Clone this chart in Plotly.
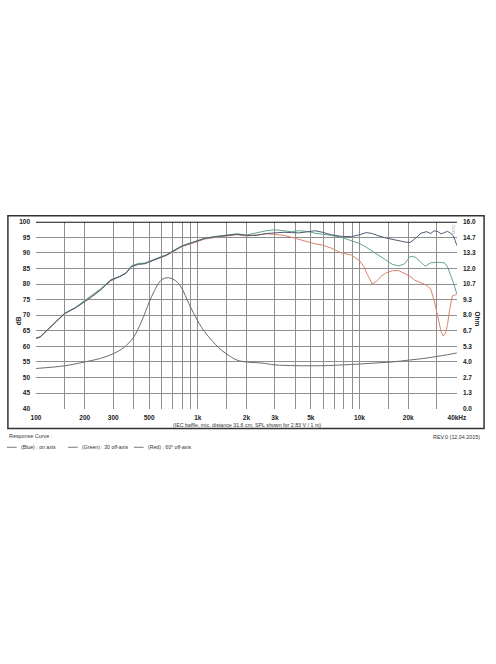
import plotly.graph_objects as go

W, H = 496, 664

# ---------------- data ----------------
freq_on = [100, 106, 120, 150, 175, 200, 220, 250, 290, 330, 360, 390, 430, 470, 510, 580, 640, 700, 800,
           930, 1100, 1300, 1500, 1750, 2000, 2300, 2650, 3000, 3400, 3800, 4200, 4700, 5300, 5900, 6700,
           7700, 8900, 10000, 11000, 12000, 13000, 14500, 16000, 17500, 19000, 20500, 22000, 24000, 26000,
           27500, 29000, 30500, 32000, 33500, 35000, 36500, 38000, 39000, 40000]
spl_on = [62.6, 63.0, 65.7, 70.5, 72.3, 74.3, 75.8, 78.0, 81.2, 82.4, 83.5, 85.6, 86.3, 86.5, 87.3, 88.4, 89.3,
          90.5, 92.2, 93.3, 94.6, 95.2, 95.6, 96.0, 95.6, 95.6, 96.2, 96.4, 96.6, 96.5, 96.4, 96.7, 97.1, 96.6,
          95.8, 95.3, 95.2, 95.8, 96.5, 96.2, 95.5, 94.8, 94.3, 93.9, 93.5, 93.3, 94.5, 96.3, 96.8, 96.2, 97.1,
          96.8, 96.1, 96.5, 96.9, 96.3, 95.5, 94.0, 92.3]

freq_30 = [100, 106, 120, 150, 175, 200, 220, 250, 290, 330, 360, 390, 430, 470, 510, 580, 640, 700, 800,
           930, 1100, 1300, 1500, 1750, 2000, 2300, 2650, 3000, 3400, 3800, 4200, 4700, 5300, 5900, 6700,
           7700, 8900, 10000, 11000, 12000, 13000, 14500, 16000, 17500, 19000, 20500, 22000, 24000, 25500,
           27500, 29000, 30500, 32000, 33500, 35000, 36500, 38000, 40000]
spl_30 = [62.7, 63.1, 65.8, 70.6, 72.5, 74.6, 76.3, 78.4, 81.4, 82.5, 83.6, 85.9, 86.6, 86.7, 87.5, 88.6, 89.4,
          90.6, 92.3, 93.4, 94.7, 95.3, 95.7, 96.1, 95.7, 96.5, 97.1, 97.4, 97.1, 96.8, 97.1, 96.9, 96.3, 96.0,
          95.6, 95.0, 94.0, 93.0, 91.8, 90.5, 89.3, 87.8, 86.3, 85.8, 86.5, 88.8, 88.7, 87.0, 85.7, 86.8, 87.0,
          87.0, 86.9, 86.8, 85.5, 83.2, 80.5, 76.8]

freq_60 = [100, 106, 120, 150, 175, 200, 220, 250, 290, 330, 360, 390, 430, 470, 510, 580, 640, 700, 800,
           930, 1100, 1300, 1500, 1750, 2000, 2300, 2650, 3000, 3400, 3800, 4200, 4700, 5300, 5900, 6700,
           7700, 8900, 10000, 10600, 11200, 12000, 12700, 13500, 14500, 16000, 17500, 19000, 20500, 22000,
           24000, 25500, 27500, 29000, 30500, 32000, 33000, 34200, 35000, 36000, 37500, 40000]
spl_60 = [62.5, 62.9, 65.6, 70.4, 72.4, 74.5, 76.2, 78.2, 81.0, 82.3, 83.4, 85.7, 86.5, 86.6, 87.2, 88.2, 89.1,
          90.3, 92.0, 93.1, 94.4, 95.0, 95.5, 95.8, 95.4, 95.8, 96.1, 95.9, 95.6, 95.0, 94.3, 93.5, 92.9, 92.5,
          91.5, 90.0, 89.3, 87.5, 85.7, 83.0, 80.0, 80.8, 82.3, 83.5, 84.3, 84.3, 83.4, 82.5, 81.2, 80.5, 79.8,
          78.5, 74.5, 69.5, 64.5, 63.3, 64.6, 67.0, 71.5, 76.2, 76.7]

imp_freq = [100, 150, 200, 250, 300, 350, 400, 450, 500, 540, 580, 620, 660, 700, 750, 800, 880, 1000, 1100,
            1220, 1350, 1500, 1750, 2000, 2500, 3000, 4000, 5000, 6000, 8000, 10000, 13000, 16000, 20000,
            25000, 30000, 35000, 40000]
imp_ohm = [3.44, 3.67, 4.0, 4.3, 4.7, 5.25, 6.1, 7.5, 9.1, 10.1, 10.85, 11.15, 11.2, 11.1, 10.8, 10.25, 9.0,
           7.5, 6.6, 5.84, 5.2, 4.7, 4.15, 4.0, 3.9, 3.75, 3.68, 3.67, 3.68, 3.75, 3.82, 3.92, 4.0, 4.15, 4.3,
           4.47, 4.62, 4.77]

grid_freqs = [100, 150, 200, 300, 400, 500, 600, 700, 800, 900, 1000, 1500, 2000, 3000, 4000, 5000, 6000,
              7000, 8000, 9000, 10000, 15000, 20000, 30000, 40000]
grid_labels = ["100", "", "200", "300", "", "500", "", "", "", "", "1k", "", "2k", "3k", "", "5k", "", "", "",
               "", "10k", "", "20k", "", "40kHz"]
db_ticks = [40, 45, 50, 55, 60, 65, 70, 75, 80, 85, 90, 95, 100]
ohm_ticks = [0, 16/12, 32/12, 4, 64/12, 80/12, 8, 112/12, 128/12, 12, 160/12, 176/12, 16]
ohm_labels = ["0.0", "1.3", "2.7", "4.0", "5.3", "6.7", "8.0", "9.3", "10.7", "12.0", "13.3", "14.7", "16.0"]

# ---------------- figure ----------------
FONT = "Liberation Sans, Arial, sans-serif"
fig = go.Figure()
fig.add_trace(go.Scatter(x=imp_freq, y=imp_ohm, yaxis="y2", mode="lines",
                         line=dict(color="#6b6b6b", width=1), line_shape="spline", showlegend=False))
fig.add_trace(go.Scatter(x=freq_60, y=spl_60, mode="lines",
                         line=dict(color="#d9836f", width=1), showlegend=False))
fig.add_trace(go.Scatter(x=freq_30, y=spl_30, mode="lines",
                         line=dict(color="#62a28e", width=1), showlegend=False))
fig.add_trace(go.Scatter(x=freq_on, y=spl_on, mode="lines",
                         line=dict(color="#4e5b70", width=1), showlegend=False))

x0d, x1d = 32 / W, 466 / W
y0d, y1d = 1 - 409 / H, 1 - 220 / H
tf = dict(family=FONT, size=6.5, color="#222", weight="bold")

fig.update_layout(
    width=W, height=H, autosize=False, margin=dict(l=0, r=0, t=0, b=0, pad=0),
    paper_bgcolor="white", plot_bgcolor="white",
    xaxis=dict(type="log", range=[2, 4.60206], domain=[x0d, x1d],
               tickmode="array", tickvals=grid_freqs, ticktext=grid_labels,
               showgrid=True, gridcolor="#8f8f8f", gridwidth=1, zeroline=False,
               showline=False, ticks="", tickfont=tf, ticklabelstandoff=4),
    yaxis=dict(range=[40, 100], domain=[y0d, y1d], tickmode="array", tickvals=db_ticks,
               showgrid=True, gridcolor="#8f8f8f", gridwidth=1, zeroline=False,
               showline=False, ticks="", tickfont=tf, ticklabelstandoff=5),
    yaxis2=dict(range=[0, 16], overlaying="y", side="right", tickmode="array",
                tickvals=ohm_ticks, ticktext=ohm_labels, showgrid=False, zeroline=False,
                showline=False, ticks="", tickfont=tf, ticklabelstandoff=5),
    font=dict(family=FONT, color="#222"),
)

shapes = [
    dict(type="rect", xref="paper", yref="paper", x0=3 / W, x1=494 / W, y0=1 - 429 / H, y1=1 - 214 / H,
         line=dict(color="#333", width=1.5), layer="below"),
    dict(type="line", xref="x domain", yref="y", x0=0, x1=1, y0=100, y1=100,
         line=dict(color="#111", width=2.2)),
]
for xs in [(2, 12), (65, 75), (133, 143)]:
    shapes.append(dict(type="line", xref="paper", yref="paper", x0=xs[0] / W, x1=xs[1] / W,
                       y0=1 - 448 / H, y1=1 - 448 / H, line=dict(color="#555", width=0.8)))
fig.update_layout(shapes=shapes)

def ann(text, x, y, size, xanchor="left", angle=0, bold=False, color="#333"):
    fig.add_annotation(text=text, x=x / W, y=1 - y / H, xref="paper", yref="paper",
                       xanchor=xanchor, yanchor="middle", showarrow=False, textangle=angle,
                       font=dict(family=FONT, size=size, color=color,
                                 weight="bold" if bold else "normal"))

ann("dB", 14, 320, 6.5, xanchor="center", angle=-90, bold=True, color="#222")
ann("Ohm", 487, 318, 6.5, xanchor="center", angle=90, bold=True, color="#222")
ann("(IEC baffle, mic. distance 31.6 cm, SPL shown for 2.83 V / 1 m)", 250, 425, 5.3, xanchor="center")
ann("Response Curve :", 2, 437, 5.4)
ann("REV.0 (12.04.2015)", 492, 438, 5.4, xanchor="right")
ann("(Blue) : on axis", 14, 448, 5.2)
ann("(Green) : 30 off-axis", 77, 448, 5.2)
ann("(Red) : 60° off-axis", 145, 448, 5.2)
ann("CLIO", 462, 227, 4, xanchor="center", angle=90, color="#999")

post = ("document.documentElement.style.margin='0';document.documentElement.style.padding='0';"
        "document.documentElement.style.overflow='hidden';"
        "document.body.style.margin='0';document.body.style.padding='0';document.body.style.overflow='hidden';"
        "var d=document.getElementById('{plot_id}');d.style.position='absolute';d.style.left='0px';"
        "d.style.top='0px';d.style.width='496px';d.style.height='664px';")
fig.write_html("out.html", config={"responsive": False, "displayModeBar": False}, post_script=post)
